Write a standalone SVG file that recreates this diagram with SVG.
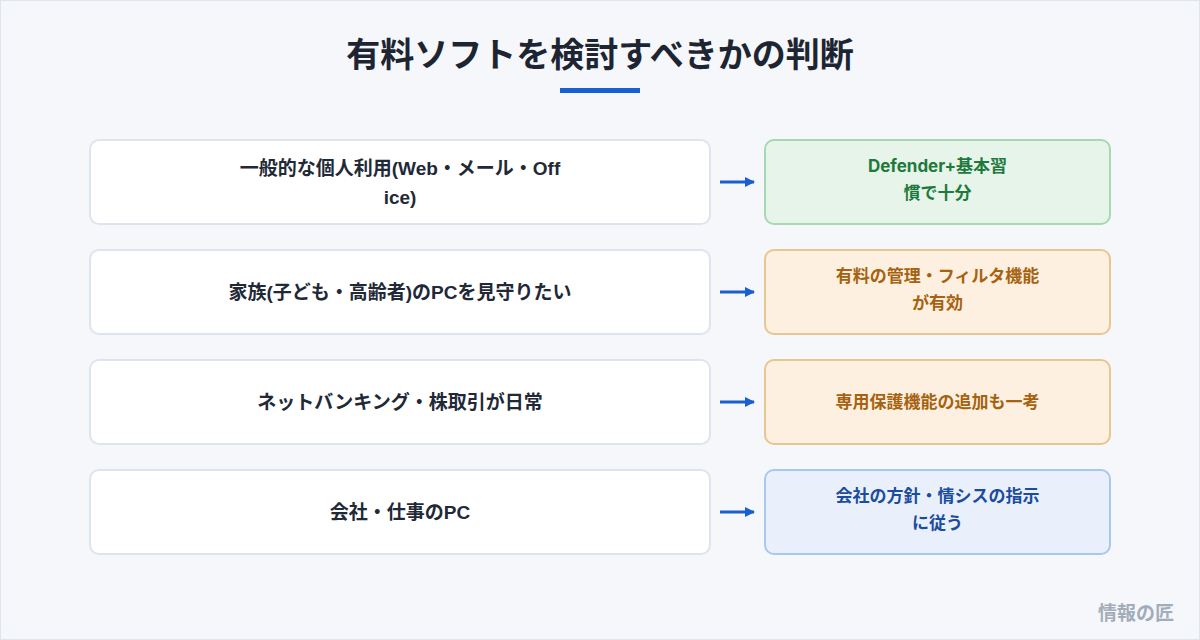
<svg xmlns="http://www.w3.org/2000/svg" width="1200" height="640" viewBox="0 0 1200 640">
<style>
text{font-family:"Noto Sans CJK JP","Noto Sans",sans-serif;font-weight:bold;text-anchor:middle}
.t{font-size:34px;fill:#1e2532}
.q rect{fill:#ffffff;stroke:#dde4ee;stroke-width:2}
.q text{font-size:19px;fill:#1f2937;font-family:"Liberation Sans","Noto Sans CJK JP",sans-serif}
.a text{font-size:17px;font-family:"Inter","Noto Sans CJK JP",sans-serif}
.g rect{fill:#e7f4ea;stroke:#a6d8b2;stroke-width:2}
.g text{fill:#1e7a3c}
.o rect{fill:#fdf0e1;stroke:#e8c68f;stroke-width:2}
.o text{fill:#a6620f}
.b rect{fill:#e9f0fb;stroke:#a9c7ef;stroke-width:2}
.b text{fill:#1b4c9e}
.c line{stroke:#1a5fd0;stroke-width:3}
</style>
<defs>
<marker id="ah" markerWidth="10" markerHeight="10" refX="9" refY="5" orient="auto" markerUnits="userSpaceOnUse">
<path d="M0,0 L10,5 L0,10 Z" fill="#1a5fd0"/>
</marker>
</defs>
<rect x="0.5" y="0.5" width="1199" height="639" fill="#f5f7fb" stroke="#dfe5ee"/>
<text class="t" x="600" y="67">有料ソフトを検討すべきかの判断</text>
<rect x="560" y="88" width="80" height="5" fill="#1a5fd0"/>

<g id="q1" class="q"><rect x="90" y="140" width="620" height="84" rx="9"/><text x="400" y="175">一般的な個人利用(Web・メール・Off</text><text x="400" y="204">ice)</text></g>
<g id="q2" class="q"><rect x="90" y="250" width="620" height="84" rx="9"/><text x="400" y="299">家族(子ども・高齢者)のPCを見守りたい</text></g>
<g id="q3" class="q"><rect x="90" y="360" width="620" height="84" rx="9"/><text x="400" y="409">ネットバンキング・株取引が日常</text></g>
<g id="q4" class="q"><rect x="90" y="470" width="620" height="84" rx="9"/><text x="400" y="519">会社・仕事のPC</text></g>

<g id="a1" class="a g"><rect x="765" y="140" width="345" height="84" rx="9"/><text x="937.5" y="172">Defender+基本習</text><text x="937.5" y="199">慣で十分</text></g>
<g id="a2" class="a o"><rect x="765" y="250" width="345" height="84" rx="9"/><text x="937.5" y="282">有料の管理・フィルタ機能</text><text x="937.5" y="309">が有効</text></g>
<g id="a3" class="a o"><rect x="765" y="360" width="345" height="84" rx="9"/><text x="937.5" y="408">専用保護機能の追加も一考</text></g>
<g id="a4" class="a b"><rect x="765" y="470" width="345" height="84" rx="9"/><text x="937.5" y="502">会社の方針・情シスの指示</text><text x="937.5" y="529">に従う</text></g>

<g id="connectors" class="c">
<line x1="720" y1="182" x2="754" y2="182" marker-end="url(#ah)"/>
<line x1="720" y1="292" x2="754" y2="292" marker-end="url(#ah)"/>
<line x1="720" y1="402" x2="754" y2="402" marker-end="url(#ah)"/>
<line x1="720" y1="512" x2="754" y2="512" marker-end="url(#ah)"/>
</g>
<text x="1136" y="620" style="font-size:19px;fill:#a3adba">情報の匠</text>
</svg>
